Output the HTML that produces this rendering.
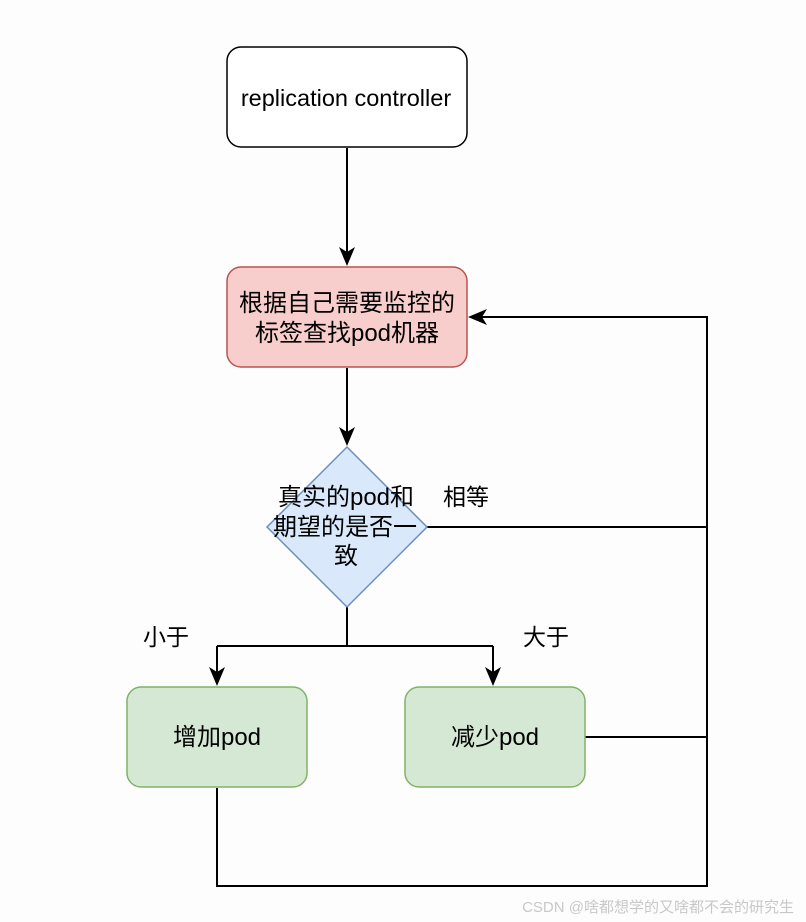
<!DOCTYPE html>
<html><head><meta charset="utf-8"><style>
html,body{margin:0;padding:0;background:#fdfdfd;}
svg{display:block;}
text{font-family:"Liberation Sans","Noto Sans CJK SC",sans-serif;fill:#000;}
</style></head><body>
<svg width="806" height="922" viewBox="0 0 806 922" xmlns="http://www.w3.org/2000/svg">
<rect width="806" height="922" fill="#fdfdfd"/>
<g stroke="#000" stroke-width="2" fill="none">
<line x1="347" y1="148" x2="347" y2="256"/>
<line x1="347" y1="368" x2="347" y2="436"/>
<polyline points="427,527 707,527"/>
<polyline points="585,737 707,737"/>
<polyline points="217,788 217,886 707,886 707,317 478,317"/>
<polyline points="347,607 347,646"/>
<polyline points="217,646 493,646"/>
<line x1="217" y1="646" x2="217" y2="676"/>
<line x1="493" y1="646" x2="493" y2="676"/>
</g>
<g fill="#000">
<path d="M347,266 L339,247 L347,252 L355,247 Z"/>
<path d="M347,446 L339,427 L347,432 L355,427 Z"/>
<path d="M217,686 L209,667 L217,672 L225,667 Z"/>
<path d="M493,686 L485,667 L493,672 L501,667 Z"/>
<path d="M468,317 L487,309 L482,317 L487,325 Z"/>
</g>
<rect x="227" y="47" width="240" height="100" rx="14" fill="#fff" stroke="#000" stroke-width="1.5"/>
<text x="346" y="106" font-size="23.5" text-anchor="middle">replication controller</text>
<rect x="227" y="267" width="240" height="100" rx="14" fill="#f8cecc" stroke="#b85450" stroke-width="1.5"/>
<text x="347" y="311" font-size="24" text-anchor="middle">根据自己需要监控的</text>
<text x="347" y="341" font-size="24" text-anchor="middle">标签查找pod机器</text>
<polygon points="347,447 427,527 347,607 267,527" fill="#dae8fc" stroke="#6c8ebf" stroke-width="1.5"/>
<text x="346" y="505" font-size="24" text-anchor="middle">真实的pod和</text>
<text x="345" y="535" font-size="24" text-anchor="middle">期望的是否一</text>
<text x="346" y="564" font-size="24" text-anchor="middle">致</text>
<text x="466" y="505" font-size="23" text-anchor="middle">相等</text>
<text x="166" y="645" font-size="23" text-anchor="middle">小于</text>
<text x="546" y="645" font-size="23" text-anchor="middle">大于</text>
<rect x="127" y="687" width="180" height="100" rx="14" fill="#d5e8d4" stroke="#82b366" stroke-width="1.5"/>
<text x="217" y="745" font-size="24" text-anchor="middle">增加pod</text>
<rect x="405" y="687" width="180" height="100" rx="14" fill="#d5e8d4" stroke="#82b366" stroke-width="1.5"/>
<text x="495" y="745" font-size="24" text-anchor="middle">减少pod</text>
<text x="794" y="912" font-size="15" text-anchor="end" style="fill:#c8c8c8">CSDN @啥都想学的又啥都不会的研究生</text>
</svg>
</body></html>
